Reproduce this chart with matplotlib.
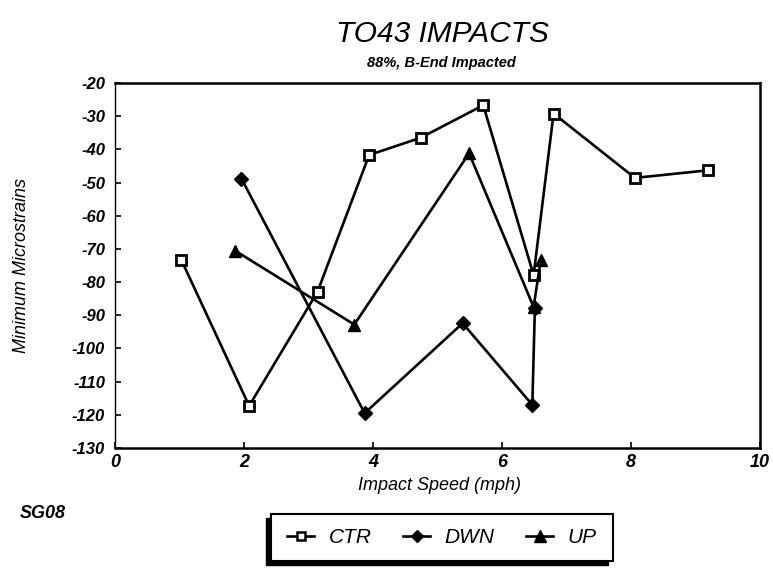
import matplotlib
matplotlib.use("Agg")
import matplotlib.pyplot as plt
from matplotlib.patches import Rectangle
from matplotlib.lines import Line2D

# Data
ctr_x = [1.03, 2.08, 3.14, 3.94, 4.74, 5.71, 6.49, 6.80, 8.06, 9.20]
ctr_y = [-73.4, -117.3, -82.9, -41.7, -36.5, -26.7, -77.9, -29.2, -48.6, -46.3]
dwn_x = [1.96, 3.87, 5.39, 6.47, 6.51]
dwn_y = [-48.8, -119.5, -92.4, -117.0, -87.7]
up_x = [1.86, 3.71, 5.49, 6.49, 6.60]
up_y = [-70.5, -92.8, -41.2, -87.5, -73.4]

x_ticks = [0, 2, 4, 6, 8, 10]
y_ticks = [-20, -30, -40, -50, -60, -70, -80, -90, -100, -110, -120, -130]

FONT = "Liberation Sans"

fig = plt.figure(figsize=(7.73, 5.69), dpi=100)
ax = fig.add_axes([115/773, 1-448/569, 645/773, 365/569])

lw = 1.9
ax.plot(ctr_x, ctr_y, color="black", lw=lw, marker="s", ms=7, mfc="white",
        mec="black", mew=2.0, zorder=3)
ax.plot(up_x, up_y, color="black", lw=lw, marker="^", ms=9, mfc="black",
        mec="black", zorder=3)
ax.plot(dwn_x, dwn_y, color="black", lw=lw, marker="D", ms=7, mfc="black",
        mec="black", zorder=4)

ax.set_xlim(0, 10)
ax.set_ylim(-130, -20)
ax.set_xticks(x_ticks)
ax.set_yticks(y_ticks)
ax.set_xticklabels([str(t) for t in x_ticks])
ax.set_yticklabels([str(t) for t in y_ticks])
ax.tick_params(axis="both", direction="in", length=4, width=1.2, color="black")
ax.tick_params(axis="x", pad=4)
ax.tick_params(axis="y", pad=7)
for lab in ax.get_xticklabels():
    lab.set_fontfamily(FONT)
    lab.set_fontstyle("italic")
    lab.set_fontweight("bold")
    lab.set_fontsize(13)
for lab in ax.get_yticklabels():
    lab.set_fontfamily(FONT)
    lab.set_fontstyle("italic")
    lab.set_fontweight("bold")
    lab.set_fontsize(12)

for side, w in [("left", 1.0), ("right", 1.8), ("top", 1.8), ("bottom", 1.8)]:
    ax.spines[side].set_linewidth(w)
    ax.spines[side].set_color("black")

fig.text(442/773, 1-34/569, "TO43 IMPACTS", ha="center", va="center",
         fontsize=21.5, fontstyle="italic", family=FONT)
fig.text(441/773, 1-63/569, "88%, B-End Impacted", ha="center", va="center",
         fontsize=10.5, fontstyle="italic", fontweight="bold", family=FONT)
fig.text(22/773, 1-265/569, "Minimum Microstrains", ha="center", va="center",
         rotation=90, fontsize=13, fontstyle="italic", family=FONT)
fig.text(439/773, 1-485/569, "Impact Speed (mph)", ha="center", va="center",
         fontsize=13, fontstyle="italic", family=FONT)
fig.text(20/773, 1-513/569, "SG08", ha="left", va="center",
         fontsize=13, fontstyle="italic", fontweight="bold", family=FONT)

# Legend box with shadow
W, H = 773, 569
bx0, bx1, by0, by1 = 271, 613, 514, 561
shadow = Rectangle(((bx0-5)/W, 1-(by1+4)/H), (bx1-bx0)/W, (by1-by0)/H,
                   transform=fig.transFigure, facecolor="black",
                   edgecolor="black", zorder=1)
box = Rectangle((bx0/W, 1-by1/H), (bx1-bx0)/W, (by1-by0)/H,
                transform=fig.transFigure, facecolor="white",
                edgecolor="black", lw=1.5, zorder=2)
fig.patches.extend([shadow, box])

handles = [
    Line2D([], [], color="black", lw=lw, marker="s", ms=6, mfc="white", mec="black", mew=1.8),
    Line2D([], [], color="black", lw=lw, marker="D", ms=6, mfc="black", mec="black"),
    Line2D([], [], color="black", lw=lw, marker="^", ms=8, mfc="black", mec="black"),
]
leg = fig.legend(handles, ["CTR", "DWN", "UP"], loc="center",
                 bbox_to_anchor=((bx0+bx1)/2/W, 1-(by0+by1)/2/H),
                 ncol=3, frameon=False, handlelength=1.3, handletextpad=0.7,
                 columnspacing=1.5,
                 prop={"family": FONT, "style": "italic", "size": 15})
leg.set_zorder(5)

fig.savefig("out.png", dpi=100)
